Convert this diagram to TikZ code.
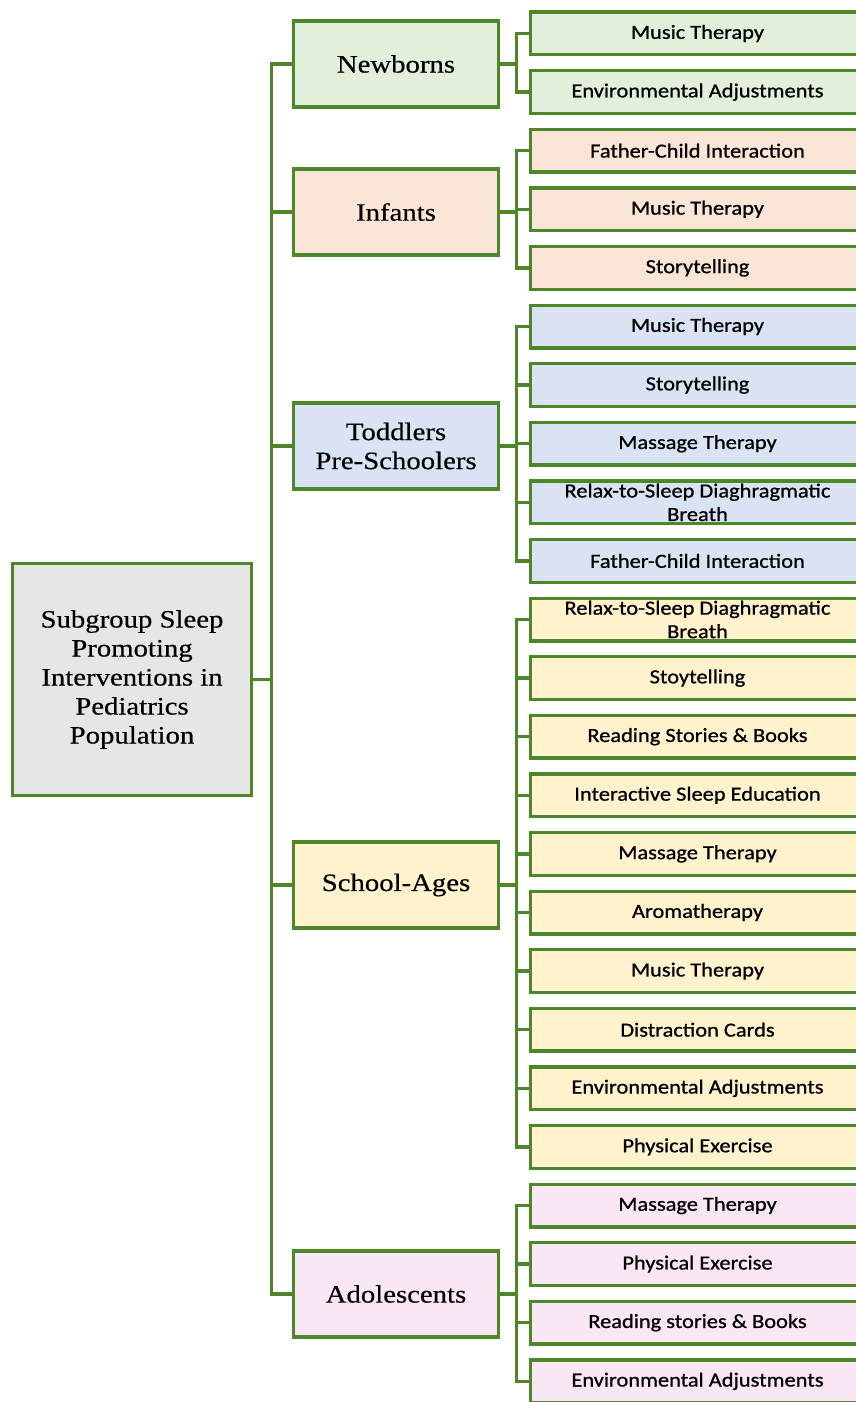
\documentclass[tikz,border=0pt]{standalone}
\usepackage{fontspec}
\setmainfont{Liberation Serif}[FakeStretch=1.15,FakeBold=0.4]
\newfontfamily\leaffont{Carlito}[FakeStretch=1.12,FakeBold=0.8]
\usepackage{tikz}
\usetikzlibrary{positioning}
\definecolor{lineGreen}{RGB}{78,135,42}
\definecolor{rootGray}{RGB}{231,230,230}
\definecolor{nbGreen}{RGB}{226,239,218}
\definecolor{infPeach}{RGB}{251,229,214}
\definecolor{todBlue}{RGB}{218,227,243}
\definecolor{schYellow}{RGB}{255,242,204}
\definecolor{adoPink}{RGB}{250,231,245}

\begin{document}
\begin{tikzpicture}[x=1pt,y=-1pt,
  rootbox/.style={rectangle,draw=lineGreen,line width=3.3pt,fill=rootGray,
                  minimum width=239pt,minimum height=232pt,align=center,
                  font=\fontsize{25}{29}\selectfont},
  group/.style={rectangle,draw=lineGreen,line width=3.3pt,
                minimum width=205pt,minimum height=86pt,align=center,
                font=\fontsize{25}{29}\selectfont},
  leaf/.style={rectangle,draw=lineGreen,line width=3.3pt,
               minimum width=334pt,minimum height=42.7pt,inner ysep=0pt,align=center,
               font=\leaffont\fontsize{20}{23.5}\selectfont},
  link/.style={draw=lineGreen,line width=3.3pt}
]
  \useasboundingbox (0,0) rectangle (855,1402);

  \node[rootbox](root) at (132,679.5)
    {Subgroup Sleep\\Promoting\\Interventions in\\Pediatrics\\Population};

  \node[group,fill=nbGreen](nb) at (396,64) {Newborns};
  \node[group,fill=infPeach](inf) at (396,212) {Infants};
  \node[group,fill=todBlue](tod) at (396,446) {Toddlers\\Pre-Schoolers};
  \node[group,fill=schYellow](sch) at (396,885) {School-Ages};
  \node[group,fill=adoPink](ado) at (396,1294) {Adolescents};

  % newborns
  \node[leaf,fill=nbGreen](nb1) at (697.5,33.5) {Music Therapy};
  \node[leaf,fill=nbGreen,below=12.6pt of nb1](nb2) {Environmental Adjustments};
  % infants
  \node[leaf,fill=infPeach,below=12.6pt of nb2](inf1) {Father-Child Interaction};
  \node[leaf,fill=infPeach,below=12.6pt of inf1](inf2) {Music Therapy};
  \node[leaf,fill=infPeach,below=12.6pt of inf2](inf3) {Storytelling};
  % toddlers / pre-schoolers
  \node[leaf,fill=todBlue,below=12.6pt of inf3](tod1) {Music Therapy};
  \node[leaf,fill=todBlue,below=12.6pt of tod1](tod2) {Storytelling};
  \node[leaf,fill=todBlue,below=12.6pt of tod2](tod3) {Massage Therapy};
  \node[leaf,fill=todBlue,below=12.6pt of tod3](tod4) {Relax-to-Sleep Diaghragmatic\\Breath};
  \node[leaf,fill=todBlue,below=12.6pt of tod4](tod5) {Father-Child Interaction};
  % school-ages
  \node[leaf,fill=schYellow,below=12.6pt of tod5](sch1) {Relax-to-Sleep Diaghragmatic\\Breath};
  \node[leaf,fill=schYellow,below=12.6pt of sch1](sch2) {Stoytelling};
  \node[leaf,fill=schYellow,below=12.6pt of sch2](sch3) {Reading Stories \& Books};
  \node[leaf,fill=schYellow,below=12.6pt of sch3](sch4) {Interactive Sleep Education};
  \node[leaf,fill=schYellow,below=12.6pt of sch4](sch5) {Massage Therapy};
  \node[leaf,fill=schYellow,below=12.6pt of sch5](sch6) {Aromatherapy};
  \node[leaf,fill=schYellow,below=12.6pt of sch6](sch7) {Music Therapy};
  \node[leaf,fill=schYellow,below=12.6pt of sch7](sch8) {Distraction Cards};
  \node[leaf,fill=schYellow,below=12.6pt of sch8](sch9) {Environmental Adjustments};
  \node[leaf,fill=schYellow,below=12.6pt of sch9](sch10) {Physical Exercise};
  % adolescents
  \node[leaf,fill=adoPink,below=12.6pt of sch10](ado1) {Massage Therapy};
  \node[leaf,fill=adoPink,below=12.6pt of ado1](ado2) {Physical Exercise};
  \node[leaf,fill=adoPink,below=12.6pt of ado2](ado3) {Reading stories \& Books};
  \node[leaf,fill=adoPink,below=12.6pt of ado3](ado4) {Environmental Adjustments};

  \foreach \g in {nb,inf,tod,sch,ado}
    \draw[link](root.east) -- ++(18,0) |- (\g.west);
  \foreach \l in {nb1,nb2}
    \draw[link](nb.east) -- ++(16,0) |- (\l.west);
  \foreach \l in {inf1,inf2,inf3}
    \draw[link](inf.east) -- ++(16,0) |- (\l.west);
  \foreach \l in {tod1,tod2,tod3,tod4,tod5}
    \draw[link](tod.east) -- ++(16,0) |- (\l.west);
  \foreach \l in {sch1,sch2,sch3,sch4,sch5,sch6,sch7,sch8,sch9,sch10}
    \draw[link](sch.east) -- ++(16,0) |- (\l.west);
  \foreach \l in {ado1,ado2,ado3,ado4}
    \draw[link](ado.east) -- ++(16,0) |- (\l.west);
\end{tikzpicture}
\end{document}
